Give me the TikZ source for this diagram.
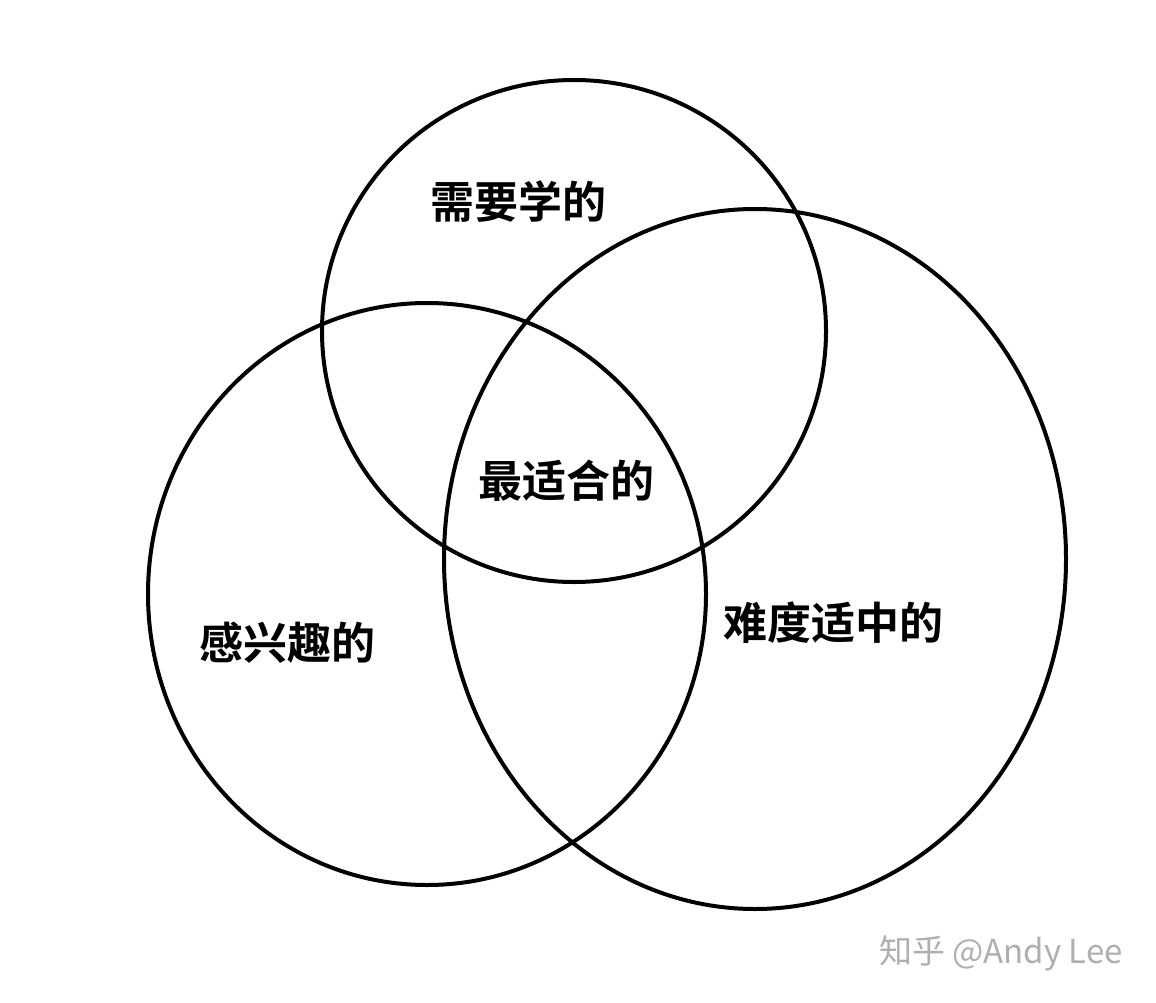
\documentclass[tikz,border=0pt]{standalone}
\usepackage{fontspec}
\newfontfamily\cjk{Noto Sans CJK SC}
\newfontfamily\cjkb{Noto Sans CJK SC Bold}
\definecolor{wm}{RGB}{175,175,175}
\begin{document}
\begin{tikzpicture}[x=1pt,y=-1pt,
  ring/.style={draw=black,line width=4pt},
  lbl/.style={font=\cjkb\fontsize{44}{44}\selectfont,inner sep=0pt}]
\useasboundingbox[fill=white] (0,0) rectangle (1156,1003);
\draw[ring] (574,331) ellipse [x radius=252,y radius=251];
\draw[ring] (427,594) ellipse [x radius=279,y radius=291];
\draw[ring] (755,559) ellipse [x radius=311,y radius=350];
\node[lbl] (need) at (518,202) {需要学的};
\node[lbl] (best) at (566,481) {最适合的};
\node[lbl] (interest) at (287,643) {感兴趣的};
\node[lbl] (mid) at (833,623) {难度适中的};
\node[font=\cjk\fontsize{33}{33}\selectfont,text=wm,inner sep=0pt] (wmk) at (1001,953) {知乎 @Andy Lee};
\end{tikzpicture}
\end{document}
